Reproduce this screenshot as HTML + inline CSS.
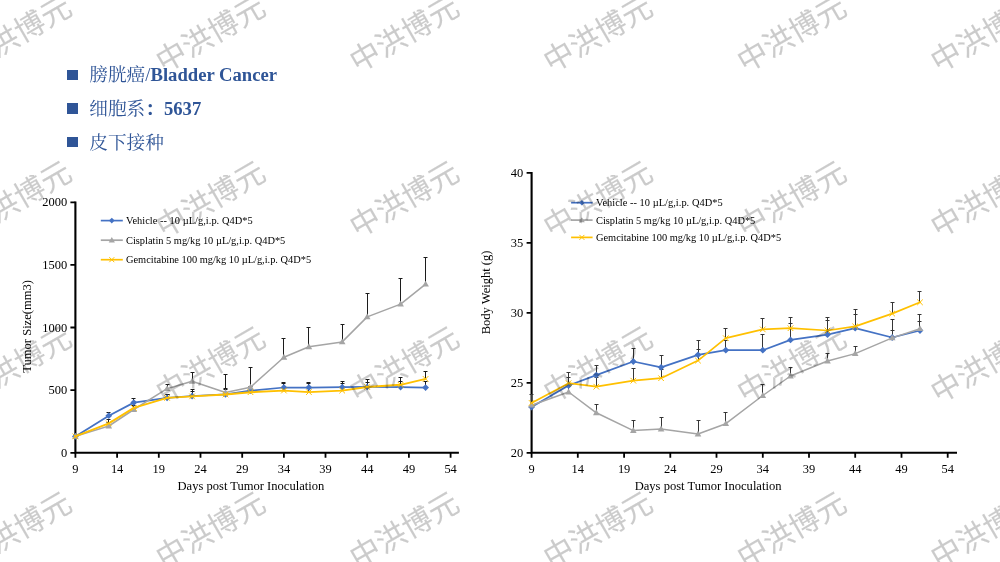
<!DOCTYPE html>
<html lang="zh"><head><meta charset="utf-8"><title>膀胱癌 Bladder Cancer 5637</title>
<style>
html,body{margin:0;padding:0;background:#fff;}
body{width:1000px;height:562px;position:relative;overflow:hidden;font-family:"Liberation Serif","Noto Serif CJK SC",serif;}
svg{position:absolute;left:0;top:0;}
svg text{font-family:"Liberation Serif","Noto Serif CJK SC",serif;fill:#000;}
.tk{font-size:12.45px;}
.lg{font-size:10.4px;}
.ti{font-size:12.55px;}
.wm{font-family:"Liberation Sans","Noto Sans CJK SC",sans-serif;font-size:30px;fill:#000;stroke:#000;stroke-width:0.12px;}
ul{list-style:none;margin:0;padding:0;position:absolute;left:66.8px;top:58.3px;}
li{position:relative;height:33.75px;line-height:33.75px;padding-left:22.5px;font-size:18.67px;color:#2f5597;white-space:nowrap;}
li:before{content:"";position:absolute;left:0;top:11.3px;width:10.9px;height:10.2px;background:#2f5597;}
li b{font-weight:bold;}
</style></head><body>
<svg width="1000" height="562" viewBox="0 0 1000 562">
<g id="left">
<path d="M75.4 201.6V452.8H458.9" stroke="#000" stroke-width="2.1" fill="none" stroke-linejoin="miter"/>
<path d="M70.4 202.3H75.4M70.4 264.9H75.4M70.4 327.5H75.4M70.4 390.1H75.4M70.4 452.8H75.4M75.4 452.8V457.8M117.1 452.8V457.8M158.8 452.8V457.8M200.5 452.8V457.8M242.2 452.8V457.8M283.9 452.8V457.8M325.5 452.8V457.8M367.2 452.8V457.8M408.9 452.8V457.8M450.6 452.8V457.8" stroke="#000" stroke-width="1.8" fill="none"/>
<text x="67.1" y="206.3" text-anchor="end" class="tk">2000</text>
<text x="67.1" y="268.9" text-anchor="end" class="tk">1500</text>
<text x="67.1" y="331.5" text-anchor="end" class="tk">1000</text>
<text x="67.1" y="394.1" text-anchor="end" class="tk">500</text>
<text x="67.1" y="456.8" text-anchor="end" class="tk">0</text>
<text x="75.4" y="473" text-anchor="middle" class="tk">9</text>
<text x="117.1" y="473" text-anchor="middle" class="tk">14</text>
<text x="158.8" y="473" text-anchor="middle" class="tk">19</text>
<text x="200.5" y="473" text-anchor="middle" class="tk">24</text>
<text x="242.2" y="473" text-anchor="middle" class="tk">29</text>
<text x="283.9" y="473" text-anchor="middle" class="tk">34</text>
<text x="325.5" y="473" text-anchor="middle" class="tk">39</text>
<text x="367.2" y="473" text-anchor="middle" class="tk">44</text>
<text x="408.9" y="473" text-anchor="middle" class="tk">49</text>
<text x="450.6" y="473" text-anchor="middle" class="tk">54</text>
<path d="M108.5 415.7V412M106.5 412.5H110.5M133.5 402.6V398M131.5 398.5H135.5M167.5 397.9V394M165.5 394.5H169.5M192.5 396V389M190.5 389.5H194.5M225.5 394.3V388M223.5 388.5H227.5M250.5 390.7V386M248.5 386.5H252.5M283.5 387.5V382M281.5 382.5H285.5M308.5 387.5V382M306.5 382.5H310.5M342.5 387.2V381M340.5 381.5H344.5M367.5 386.9V382M365.5 382.5H369.5M400.5 387.1V381M398.5 381.5H402.5M425.5 387.6V381M423.5 381.5H427.5" stroke="#1c1c1c" stroke-width="1" fill="none"/>
<path d="M108.5 426V422M106.5 422.5H110.5M133.5 409.5V405M131.5 405.5H135.5M167.5 388.7V384M165.5 384.5H169.5M192.5 381.3V372M190.5 372.5H194.5M225.5 392.5V374M223.5 374.5H227.5M250.5 387.2V367M248.5 367.5H252.5M283.5 357.3V338M281.5 338.5H285.5M308.5 346.8V327M306.5 327.5H310.5M342.5 341.9V324M340.5 324.5H344.5M367.5 316.9V293M365.5 293.5H369.5M400.5 304.1V278M398.5 278.5H402.5M425.5 284.2V257M423.5 257.5H427.5" stroke="#1c1c1c" stroke-width="1" fill="none"/>
<path d="M108.5 423.4V419M106.5 419.5H110.5M133.5 407.9V403M131.5 403.5H135.5M167.5 397.9V394M165.5 394.5H169.5M192.5 396.4V391M190.5 391.5H194.5M225.5 394.5V389M223.5 389.5H227.5M250.5 392.2V388M248.5 388.5H252.5M283.5 390.6V383M281.5 383.5H285.5M308.5 392.1V383M306.5 383.5H310.5M342.5 390.6V383M340.5 383.5H344.5M367.5 387V379M365.5 379.5H369.5M400.5 384.8V377M398.5 377.5H402.5M425.5 378.9V371M423.5 371.5H427.5" stroke="#1c1c1c" stroke-width="1" fill="none"/>
<polyline points="75.4,436.4 108.8,415.7 133.8,402.6 167.1,397.9 192.1,396 225.5,394.3 250.5,390.7 283.9,387.5 308.9,387.5 342.2,387.2 367.2,386.9 400.6,387.1 425.6,387.6" fill="none" stroke="#4472C4" stroke-width="1.75" stroke-linejoin="round" stroke-linecap="round"/>
<path d="M75.4 433L78.8 436.4L75.4 439.8L72 436.4Z" fill="#4472C4"/>
<path d="M108.8 412.3L112.2 415.7L108.8 419.1L105.4 415.7Z" fill="#4472C4"/>
<path d="M133.8 399.2L137.2 402.6L133.8 406L130.4 402.6Z" fill="#4472C4"/>
<path d="M167.1 394.5L170.5 397.9L167.1 401.3L163.7 397.9Z" fill="#4472C4"/>
<path d="M192.1 392.6L195.5 396L192.1 399.4L188.7 396Z" fill="#4472C4"/>
<path d="M225.5 390.9L228.9 394.3L225.5 397.7L222.1 394.3Z" fill="#4472C4"/>
<path d="M250.5 387.3L253.9 390.7L250.5 394.1L247.1 390.7Z" fill="#4472C4"/>
<path d="M283.9 384.1L287.2 387.5L283.9 390.9L280.5 387.5Z" fill="#4472C4"/>
<path d="M308.9 384.1L312.3 387.5L308.9 390.9L305.5 387.5Z" fill="#4472C4"/>
<path d="M342.2 383.8L345.6 387.2L342.2 390.6L338.8 387.2Z" fill="#4472C4"/>
<path d="M367.2 383.5L370.6 386.9L367.2 390.3L363.8 386.9Z" fill="#4472C4"/>
<path d="M400.6 383.7L404 387.1L400.6 390.5L397.2 387.1Z" fill="#4472C4"/>
<path d="M425.6 384.2L429 387.6L425.6 391L422.2 387.6Z" fill="#4472C4"/>
<polyline points="75.4,436.4 108.8,426 133.8,409.5 167.1,388.7 192.1,381.3 225.5,392.5 250.5,387.2 283.9,357.3 308.9,346.8 342.2,341.9 367.2,316.9 400.6,304.1 425.6,284.2" fill="none" stroke="#A5A5A5" stroke-width="1.5" stroke-linejoin="round" stroke-linecap="round"/>
<path d="M75.4 432.9L78.7 438.8L72.1 438.8Z" fill="#A5A5A5"/>
<path d="M108.8 422.5L112.1 428.4L105.5 428.4Z" fill="#A5A5A5"/>
<path d="M133.8 406L137.1 411.9L130.5 411.9Z" fill="#A5A5A5"/>
<path d="M167.1 385.2L170.4 391.1L163.8 391.1Z" fill="#A5A5A5"/>
<path d="M192.1 377.8L195.4 383.7L188.8 383.7Z" fill="#A5A5A5"/>
<path d="M225.5 389L228.8 394.9L222.2 394.9Z" fill="#A5A5A5"/>
<path d="M250.5 383.7L253.8 389.6L247.2 389.6Z" fill="#A5A5A5"/>
<path d="M283.9 353.8L287.2 359.7L280.6 359.7Z" fill="#A5A5A5"/>
<path d="M308.9 343.3L312.2 349.2L305.6 349.2Z" fill="#A5A5A5"/>
<path d="M342.2 338.4L345.5 344.3L338.9 344.3Z" fill="#A5A5A5"/>
<path d="M367.2 313.4L370.5 319.3L363.9 319.3Z" fill="#A5A5A5"/>
<path d="M400.6 300.6L403.9 306.5L397.3 306.5Z" fill="#A5A5A5"/>
<path d="M425.6 280.7L428.9 286.6L422.3 286.6Z" fill="#A5A5A5"/>
<polyline points="75.4,436.4 108.8,423.4 133.8,407.9 167.1,397.9 192.1,396.4 225.5,394.5 250.5,392.2 283.9,390.6 308.9,392.1 342.2,390.6 367.2,387 400.6,384.8 425.6,378.9" fill="none" stroke="#FFC000" stroke-width="1.9" stroke-linejoin="round" stroke-linecap="round"/>
<path d="M72.6 433.6L78.2 439.2M72.6 439.2L78.2 433.6" stroke="#FFC000" stroke-width="1" fill="none"/>
<path d="M106 420.6L111.6 426.2M106 426.2L111.6 420.6" stroke="#FFC000" stroke-width="1" fill="none"/>
<path d="M131 405.1L136.6 410.7M131 410.7L136.6 405.1" stroke="#FFC000" stroke-width="1" fill="none"/>
<path d="M164.3 395.1L169.9 400.7M164.3 400.7L169.9 395.1" stroke="#FFC000" stroke-width="1" fill="none"/>
<path d="M189.3 393.6L194.9 399.2M189.3 399.2L194.9 393.6" stroke="#FFC000" stroke-width="1" fill="none"/>
<path d="M222.7 391.7L228.3 397.3M222.7 397.3L228.3 391.7" stroke="#FFC000" stroke-width="1" fill="none"/>
<path d="M247.7 389.4L253.3 395M247.7 395L253.3 389.4" stroke="#FFC000" stroke-width="1" fill="none"/>
<path d="M281.1 387.8L286.7 393.4M281.1 393.4L286.7 387.8" stroke="#FFC000" stroke-width="1" fill="none"/>
<path d="M306.1 389.3L311.7 394.9M306.1 394.9L311.7 389.3" stroke="#FFC000" stroke-width="1" fill="none"/>
<path d="M339.4 387.8L345 393.4M339.4 393.4L345 387.8" stroke="#FFC000" stroke-width="1" fill="none"/>
<path d="M364.4 384.2L370 389.8M364.4 389.8L370 384.2" stroke="#FFC000" stroke-width="1" fill="none"/>
<path d="M397.8 382L403.4 387.6M397.8 387.6L403.4 382" stroke="#FFC000" stroke-width="1" fill="none"/>
<path d="M422.8 376.1L428.4 381.7M422.8 381.7L428.4 376.1" stroke="#FFC000" stroke-width="1" fill="none"/>
<path d="M100.8 220.6H122.8" stroke="#4472C4" stroke-width="1.7"/>
<path d="M111.8 217.8L114.6 220.6L111.8 223.4L109 220.6Z" fill="#4472C4"/>
<text x="126" y="224" class="lg" textLength="126.6" lengthAdjust="spacing">Vehicle -- 10 µL/g,i.p. Q4D*5</text>
<path d="M100.8 240.2H122.8" stroke="#A5A5A5" stroke-width="1.7"/>
<path d="M111.8 236.9L114.9 242.6L108.7 242.6Z" fill="#A5A5A5"/>
<text x="126" y="243.6" class="lg" textLength="159.3" lengthAdjust="spacing">Cisplatin 5 mg/kg 10 µL/g,i.p. Q4D*5</text>
<path d="M100.8 259.7H122.8" stroke="#FFC000" stroke-width="1.7"/>
<path d="M109.3 257.2L114.3 262.2M109.3 262.2L114.3 257.2" stroke="#FFC000" stroke-width="1" fill="none"/>
<text x="126" y="263.1" class="lg" textLength="185.1" lengthAdjust="spacing">Gemcitabine 100 mg/kg 10 µL/g,i.p. Q4D*5</text>
<text transform="translate(30.9 326.4) rotate(-90)" text-anchor="middle" class="ti">Tumor Size(mm3)</text>
<text x="250.9" y="490.2" text-anchor="middle" class="ti">Days post Tumor Inoculation</text>
</g>
<g id="right">
<path d="M531.6 172.1V452.8H957" stroke="#000" stroke-width="2.1" fill="none" stroke-linejoin="miter"/>
<path d="M526.6 172.8H531.6M526.6 242.8H531.6M526.6 312.8H531.6M526.6 382.8H531.6M526.6 452.8H531.6M531.6 452.8V457.8M577.8 452.8V457.8M624.1 452.8V457.8M670.3 452.8V457.8M716.5 452.8V457.8M762.8 452.8V457.8M809 452.8V457.8M855.2 452.8V457.8M901.5 452.8V457.8M947.7 452.8V457.8" stroke="#000" stroke-width="1.8" fill="none"/>
<text x="523.3" y="177.2" text-anchor="end" class="tk">40</text>
<text x="523.3" y="247.2" text-anchor="end" class="tk">35</text>
<text x="523.3" y="317.2" text-anchor="end" class="tk">30</text>
<text x="523.3" y="387.2" text-anchor="end" class="tk">25</text>
<text x="523.3" y="457.2" text-anchor="end" class="tk">20</text>
<text x="531.6" y="473" text-anchor="middle" class="tk">9</text>
<text x="577.8" y="473" text-anchor="middle" class="tk">14</text>
<text x="624.1" y="473" text-anchor="middle" class="tk">19</text>
<text x="670.3" y="473" text-anchor="middle" class="tk">24</text>
<text x="716.5" y="473" text-anchor="middle" class="tk">29</text>
<text x="762.8" y="473" text-anchor="middle" class="tk">34</text>
<text x="809" y="473" text-anchor="middle" class="tk">39</text>
<text x="855.2" y="473" text-anchor="middle" class="tk">44</text>
<text x="901.5" y="473" text-anchor="middle" class="tk">49</text>
<text x="947.7" y="473" text-anchor="middle" class="tk">54</text>
<path d="M568.5 385.5V377M566.5 377.5H570.5M596.5 375.1V365M594.5 365.5H598.5M633.5 361.5V348M631.5 348.5H635.5M661.5 367.3V355M659.5 355.5H663.5M698.5 354.8V340M696.5 340.5H700.5M725.5 350.2V340M723.5 340.5H727.5M762.5 350.2V334M760.5 334.5H764.5M790.5 339.9V323M788.5 323.5H792.5M827.5 334.7V320M825.5 320.5H829.5M855.5 328.2V314M853.5 314.5H857.5M892.5 337.5V319M890.5 319.5H894.5M919.5 330.5V321M917.5 321.5H921.5" stroke="#363636" stroke-width="1" fill="none"/>
<path d="M531.5 405.2V394M529.5 394.5H533.5M568.5 392V384M566.5 384.5H570.5M596.5 412.8V404M594.5 404.5H598.5M633.5 430.6V420M631.5 420.5H635.5M661.5 429V417M659.5 417.5H663.5M698.5 434V420M696.5 420.5H700.5M725.5 423.7V412M723.5 412.5H727.5M762.5 395.5V384M760.5 384.5H764.5M790.5 376V367M788.5 367.5H792.5M827.5 361V353M825.5 353.5H829.5M855.5 353.6V346M853.5 346.5H857.5M892.5 337.9V330M890.5 330.5H894.5M919.5 328.7V314M917.5 314.5H921.5" stroke="#363636" stroke-width="1" fill="none"/>
<path d="M568.5 383.2V372M566.5 372.5H570.5M596.5 386.7V377M594.5 377.5H598.5M633.5 380.7V368M631.5 368.5H635.5M661.5 378.2V369M659.5 369.5H663.5M698.5 360.6V349M696.5 349.5H700.5M725.5 338.2V328M723.5 328.5H727.5M762.5 329.4V318M760.5 318.5H764.5M790.5 328.2V317M788.5 317.5H792.5M827.5 330.5V317M825.5 317.5H829.5M855.5 326.4V309M853.5 309.5H857.5M892.5 313.6V302M890.5 302.5H894.5M919.5 302.3V291M917.5 291.5H921.5" stroke="#363636" stroke-width="1" fill="none"/>
<polyline points="531.6,407 568.6,385.5 596.3,375.1 633.3,361.5 661.1,367.3 698,354.8 725.8,350.2 762.8,350.2 790.5,339.9 827.5,334.7 855.2,328.2 892.2,337.5 920,330.5" fill="none" stroke="#4472C4" stroke-width="1.75" stroke-linejoin="round" stroke-linecap="round"/>
<path d="M531.6 403.6L535 407L531.6 410.4L528.2 407Z" fill="#4472C4"/>
<path d="M568.6 382.1L572 385.5L568.6 388.9L565.2 385.5Z" fill="#4472C4"/>
<path d="M596.3 371.7L599.7 375.1L596.3 378.5L592.9 375.1Z" fill="#4472C4"/>
<path d="M633.3 358.1L636.7 361.5L633.3 364.9L629.9 361.5Z" fill="#4472C4"/>
<path d="M661.1 363.9L664.5 367.3L661.1 370.7L657.7 367.3Z" fill="#4472C4"/>
<path d="M698 351.4L701.4 354.8L698 358.2L694.6 354.8Z" fill="#4472C4"/>
<path d="M725.8 346.8L729.2 350.2L725.8 353.6L722.4 350.2Z" fill="#4472C4"/>
<path d="M762.8 346.8L766.2 350.2L762.8 353.6L759.4 350.2Z" fill="#4472C4"/>
<path d="M790.5 336.5L793.9 339.9L790.5 343.3L787.1 339.9Z" fill="#4472C4"/>
<path d="M827.5 331.3L830.9 334.7L827.5 338.1L824.1 334.7Z" fill="#4472C4"/>
<path d="M855.2 324.8L858.6 328.2L855.2 331.6L851.8 328.2Z" fill="#4472C4"/>
<path d="M892.2 334.1L895.6 337.5L892.2 340.9L888.8 337.5Z" fill="#4472C4"/>
<path d="M920 327.1L923.4 330.5L920 333.9L916.6 330.5Z" fill="#4472C4"/>
<polyline points="531.6,405.2 568.6,392 596.3,412.8 633.3,430.6 661.1,429 698,434 725.8,423.7 762.8,395.5 790.5,376 827.5,361 855.2,353.6 892.2,337.9 920,328.7" fill="none" stroke="#A5A5A5" stroke-width="1.5" stroke-linejoin="round" stroke-linecap="round"/>
<path d="M531.6 401.7L534.9 407.6L528.3 407.6Z" fill="#A5A5A5"/>
<path d="M568.6 388.5L571.9 394.4L565.3 394.4Z" fill="#A5A5A5"/>
<path d="M596.3 409.3L599.6 415.2L593 415.2Z" fill="#A5A5A5"/>
<path d="M633.3 427.1L636.6 433L630 433Z" fill="#A5A5A5"/>
<path d="M661.1 425.5L664.4 431.4L657.8 431.4Z" fill="#A5A5A5"/>
<path d="M698 430.5L701.3 436.4L694.7 436.4Z" fill="#A5A5A5"/>
<path d="M725.8 420.2L729.1 426.1L722.5 426.1Z" fill="#A5A5A5"/>
<path d="M762.8 392L766.1 397.9L759.5 397.9Z" fill="#A5A5A5"/>
<path d="M790.5 372.5L793.8 378.4L787.2 378.4Z" fill="#A5A5A5"/>
<path d="M827.5 357.5L830.8 363.4L824.2 363.4Z" fill="#A5A5A5"/>
<path d="M855.2 350.1L858.5 356L851.9 356Z" fill="#A5A5A5"/>
<path d="M892.2 334.4L895.5 340.3L888.9 340.3Z" fill="#A5A5A5"/>
<path d="M920 325.2L923.3 331.1L916.7 331.1Z" fill="#A5A5A5"/>
<polyline points="531.6,402.9 568.6,383.2 596.3,386.7 633.3,380.7 661.1,378.2 698,360.6 725.8,338.2 762.8,329.4 790.5,328.2 827.5,330.5 855.2,326.4 892.2,313.6 920,302.3" fill="none" stroke="#FFC000" stroke-width="1.7" stroke-linejoin="round" stroke-linecap="round"/>
<path d="M528.8 400.1L534.4 405.7M528.8 405.7L534.4 400.1" stroke="#FFC000" stroke-width="1" fill="none"/>
<path d="M565.8 380.4L571.4 386M565.8 386L571.4 380.4" stroke="#FFC000" stroke-width="1" fill="none"/>
<path d="M593.5 383.9L599.1 389.5M593.5 389.5L599.1 383.9" stroke="#FFC000" stroke-width="1" fill="none"/>
<path d="M630.5 377.9L636.1 383.5M630.5 383.5L636.1 377.9" stroke="#FFC000" stroke-width="1" fill="none"/>
<path d="M658.3 375.4L663.9 381M658.3 381L663.9 375.4" stroke="#FFC000" stroke-width="1" fill="none"/>
<path d="M695.2 357.8L700.8 363.4M695.2 363.4L700.8 357.8" stroke="#FFC000" stroke-width="1" fill="none"/>
<path d="M723 335.4L728.6 341M723 341L728.6 335.4" stroke="#FFC000" stroke-width="1" fill="none"/>
<path d="M760 326.6L765.6 332.2M760 332.2L765.6 326.6" stroke="#FFC000" stroke-width="1" fill="none"/>
<path d="M787.7 325.4L793.3 331M787.7 331L793.3 325.4" stroke="#FFC000" stroke-width="1" fill="none"/>
<path d="M824.7 327.7L830.3 333.3M824.7 333.3L830.3 327.7" stroke="#FFC000" stroke-width="1" fill="none"/>
<path d="M852.4 323.6L858 329.2M852.4 329.2L858 323.6" stroke="#FFC000" stroke-width="1" fill="none"/>
<path d="M889.4 310.8L895 316.4M889.4 316.4L895 310.8" stroke="#FFC000" stroke-width="1" fill="none"/>
<path d="M917.2 299.5L922.8 305.1M917.2 305.1L922.8 299.5" stroke="#FFC000" stroke-width="1" fill="none"/>
<path d="M571.1 202.7H592.6" stroke="#4472C4" stroke-width="1.7"/>
<path d="M581.9 199.9L584.6 202.7L581.9 205.5L579.1 202.7Z" fill="#4472C4"/>
<text x="596" y="206.1" class="lg" textLength="126.6" lengthAdjust="spacing">Vehicle -- 10 µL/g,i.p. Q4D*5</text>
<path d="M571.1 220.1H592.6" stroke="#A5A5A5" stroke-width="1.7"/>
<path d="M581.9 217.2L584.8 222.3L579 222.3Z" fill="#A5A5A5"/>
<text x="596" y="223.5" class="lg" textLength="159.3" lengthAdjust="spacing">Cisplatin 5 mg/kg 10 µL/g,i.p. Q4D*5</text>
<path d="M571.1 237.4H592.6" stroke="#FFC000" stroke-width="1.7"/>
<path d="M579.4 234.9L584.4 239.9M579.4 239.9L584.4 234.9" stroke="#FFC000" stroke-width="1" fill="none"/>
<text x="596" y="240.8" class="lg" textLength="185.1" lengthAdjust="spacing">Gemcitabine 100 mg/kg 10 µL/g,i.p. Q4D*5</text>
<text transform="translate(490.3 292.4) rotate(-90)" text-anchor="middle" class="ti">Body Weight (g)</text>
<text x="708.1" y="490.2" text-anchor="middle" class="ti">Days post Tumor Inoculation</text>
</g>
</svg>
<ul>
<li>膀胱癌/<b>Bladder Cancer</b></li>
<li>细胞系<b>：5637</b></li>
<li>皮下接种</li>
</ul>
<svg width="1000" height="562" viewBox="0 0 1000 562" style="pointer-events:none"><g opacity="0.205"><text x="16.8" y="44.7" transform="rotate(-30 16.8 34.2)" text-anchor="middle" class="wm">中洪博元</text>
<text x="210.5" y="44.7" transform="rotate(-30 210.5 34.2)" text-anchor="middle" class="wm">中洪博元</text>
<text x="404.2" y="44.7" transform="rotate(-30 404.2 34.2)" text-anchor="middle" class="wm">中洪博元</text>
<text x="597.9" y="44.7" transform="rotate(-30 597.9 34.2)" text-anchor="middle" class="wm">中洪博元</text>
<text x="791.6" y="44.7" transform="rotate(-30 791.6 34.2)" text-anchor="middle" class="wm">中洪博元</text>
<text x="985.3" y="44.7" transform="rotate(-30 985.3 34.2)" text-anchor="middle" class="wm">中洪博元</text>
<text x="16.8" y="210" transform="rotate(-30 16.8 199.5)" text-anchor="middle" class="wm">中洪博元</text>
<text x="210.5" y="210" transform="rotate(-30 210.5 199.5)" text-anchor="middle" class="wm">中洪博元</text>
<text x="404.2" y="210" transform="rotate(-30 404.2 199.5)" text-anchor="middle" class="wm">中洪博元</text>
<text x="597.9" y="210" transform="rotate(-30 597.9 199.5)" text-anchor="middle" class="wm">中洪博元</text>
<text x="791.6" y="210" transform="rotate(-30 791.6 199.5)" text-anchor="middle" class="wm">中洪博元</text>
<text x="985.3" y="210" transform="rotate(-30 985.3 199.5)" text-anchor="middle" class="wm">中洪博元</text>
<text x="16.8" y="375.3" transform="rotate(-30 16.8 364.8)" text-anchor="middle" class="wm">中洪博元</text>
<text x="210.5" y="375.3" transform="rotate(-30 210.5 364.8)" text-anchor="middle" class="wm">中洪博元</text>
<text x="404.2" y="375.3" transform="rotate(-30 404.2 364.8)" text-anchor="middle" class="wm">中洪博元</text>
<text x="597.9" y="375.3" transform="rotate(-30 597.9 364.8)" text-anchor="middle" class="wm">中洪博元</text>
<text x="791.6" y="375.3" transform="rotate(-30 791.6 364.8)" text-anchor="middle" class="wm">中洪博元</text>
<text x="985.3" y="375.3" transform="rotate(-30 985.3 364.8)" text-anchor="middle" class="wm">中洪博元</text>
<text x="16.8" y="540.6" transform="rotate(-30 16.8 530.1)" text-anchor="middle" class="wm">中洪博元</text>
<text x="210.5" y="540.6" transform="rotate(-30 210.5 530.1)" text-anchor="middle" class="wm">中洪博元</text>
<text x="404.2" y="540.6" transform="rotate(-30 404.2 530.1)" text-anchor="middle" class="wm">中洪博元</text>
<text x="597.9" y="540.6" transform="rotate(-30 597.9 530.1)" text-anchor="middle" class="wm">中洪博元</text>
<text x="791.6" y="540.6" transform="rotate(-30 791.6 530.1)" text-anchor="middle" class="wm">中洪博元</text>
<text x="985.3" y="540.6" transform="rotate(-30 985.3 530.1)" text-anchor="middle" class="wm">中洪博元</text></g></svg>
</body></html>
